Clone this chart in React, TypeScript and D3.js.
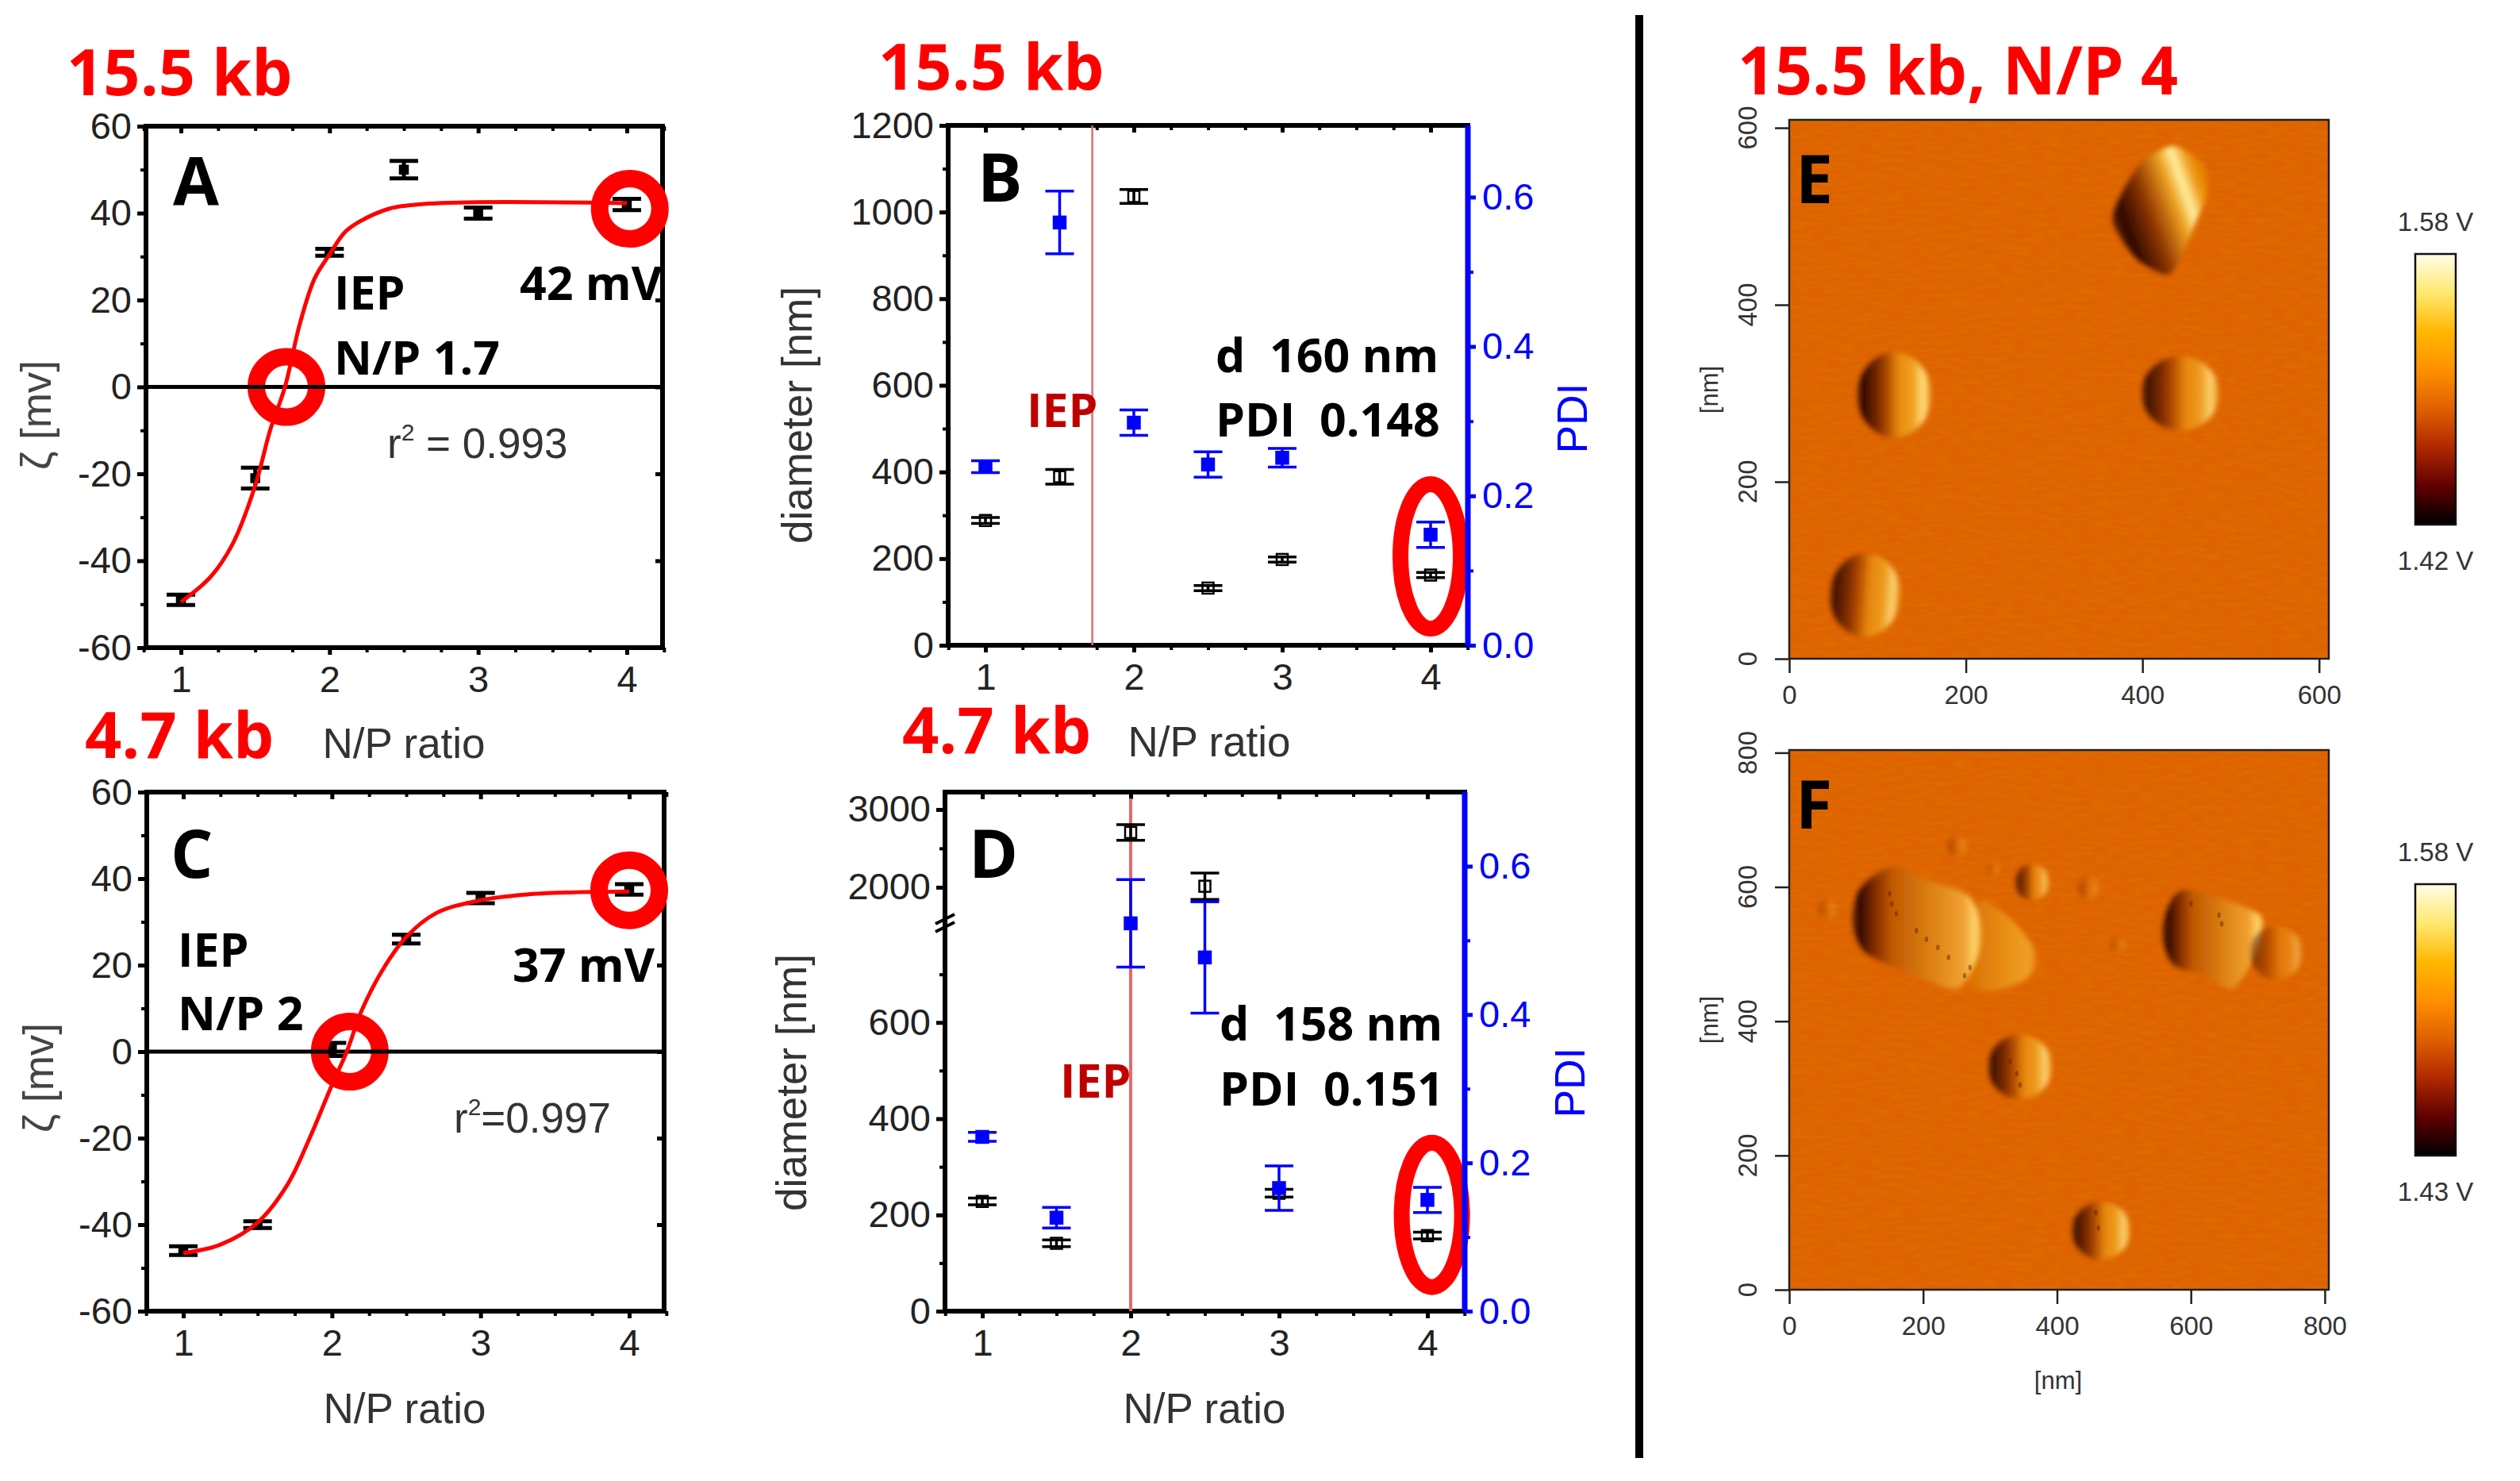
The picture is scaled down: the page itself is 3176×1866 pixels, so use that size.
import { useEffect, useRef } from "react";
import * as d3 from "d3";

// zeta potential, 15.5 kb
const npA = [1, 1.5, 2, 2.5, 3, 4];
const zetaA = [-49, -21, 31, 50, 40, 42];
const zetaErrA = [1.2, 2.4, 0.8, 2, 1.3, 1.3];
const fitXA = [1, 1.2, 1.35, 1.5, 1.6, 1.7, 1.8, 1.9, 2, 2.1, 2.2, 2.4, 2.6, 3, 4];
const fitYA = [-49.5, -43.7, -36, -22.7, -10, 0, 14.5, 25, 30.5, 35.5, 38, 41, 42, 42.5, 42.3];

// zeta potential, 4.7 kb
const npC = [1, 1.5, 2, 2.5, 3, 4];
const zetaC = [-46, -40, 0.5, 26, 35.5, 37.5];
const zetaErrC = [1, 0.8, 1.5, 1, 1.2, 1.2];
const fitXC = [1, 1.25, 1.5, 1.7, 1.85, 2, 2.1, 2.2, 2.35, 2.5, 2.7, 3, 3.3, 3.6, 4];
const fitYC = [-46.6, -44.6, -39.5, -30.8, -20, -7.7, 0, 9.5, 19.4, 26.5, 32, 35, 36.3, 36.8, 37];

// size and PDI, 15.5 kb
const npB = [1, 1.5, 2, 2.5, 3, 4];
const diamB = [288, 389, 1036, 132, 198, 162];
const diamErrB = [7, 17, 16, 6, 6, 6];
const pdiB = [0.239, 0.566, 0.298, 0.242, 0.251, 0.148];
const pdiErrB = [0.008, 0.042, 0.017, 0.017, 0.0125, 0.017];

// size and PDI, 4.7 kb
const npD = [1, 1.5, 2, 2.5, 3, 4];
const diamD = [228, 141, 2705, 2013, 245, 157];
const diamErrD = [7, 7, 100, 170, 8, 7];
const pdiD = [0.235, 0.126, 0.523, 0.477, 0.166, 0.15];
const pdiErrD = [0.006, 0.014, 0.059, 0.075, 0.03, 0.017];

const zetaTicks = [-60, -40, -20, 0, 20, 40, 60];
const zetaMinor = [-50, -30, -10, 10, 30, 50];
const npTicks = [1, 2, 3, 4];
const npMinor = [0.75, 1.25, 1.5, 1.75, 2.25, 2.5, 2.75, 3.25, 3.5, 3.75, 4.25];
const diamTicksB = [0, 200, 400, 600, 800, 1000, 1200];
const diamMinorB = [100, 300, 500, 700, 900, 1100];
const diamTicksD = [0, 200, 400, 600, 2000, 3000];
const diamMinorD = [100, 300, 500, 700, 2500];
const pdiTicks = [0, 0.2, 0.4, 0.6];
const pdiMinor = [0.1, 0.3, 0.5];

// AFM features in nm: x, y, rx, ry, tilt in degrees, strength
const bumpsE = [
  [119, 298, 42, 48, 0, 1],
  [443, 300, 44, 42, 0, 0.9],
  [86, 72, 40, 47, 4, 0.9],
];
const bumpsF = [
  [345, 332, 48, 48, 0, 0.9],
  [466, 88, 44, 43, 0, 0.9],
  [363, 607, 25, 27, 0, 0.8],
  [728, 502, 39, 40, 0, 0.5],
  [251, 661, 14, 16, 0, 0.3],
  [447, 598, 15, 17, 0, 0.3],
  [57, 568, 13, 15, 0, 0.25],
  [491, 514, 11, 12, 0, 0.25],
  [305, 627, 9, 11, 0, 0.25],
];
// traced outlines of the irregular AFM features, nm
const outlineE = [[439, 579], [468, 559], [474, 527], [461, 495], [445, 457], [429, 434], [397, 449], [377, 473], [366, 497], [377, 527], [397, 559], [419, 574]];
const outlineFLobe = [[285, 580], [336, 548], [370, 498], [353, 462], [302, 445], [268, 455], [277, 520]];
const outlineFBig = [[153, 630], [209, 609], [268, 587], [289, 534], [277, 484], [251, 448], [209, 459], [157, 480], [111, 505], [94, 548], [106, 598]];
const outlineFRight = [[587, 595], [643, 584], [698, 562], [709, 541], [689, 484], [660, 448], [617, 470], [574, 484], [557, 527], [566, 570]];
const pitsF = [[150, 590], [153, 575], [160, 560], [190, 535], [205, 522], [222, 510], [238, 495], [262, 468], [270, 480], [600, 575], [642, 558], [646, 545], [330, 340], [340, 322], [345, 305], [458, 115], [462, 92]];
const afmTicksE = [0, 200, 400, 600];
const afmTicksF = [0, 200, 400, 600, 800];
const colorbarStops = ["#000000", "#600000", "#b02800", "#e06000", "#ff9000", "#ffb800", "#ffe870", "#fffde8"];

const ARIAL = "'Liberation Sans', Arial, sans-serif";
const BOLD = "'Open Sans', sans-serif";
const INK = "#222";
const BLUE = "#0000ff";
const RED = "#ff0000";
const NB = "\u00a0";

type Sel = d3.Selection<any, any, any, any>;

function label(g: Sel, text: string, x: number, y: number, o: any = {}) {
  const t = g.append("text")
    .attr("x", x).attr("y", y)
    .attr("font-family", o.family ?? ARIAL)
    .attr("font-size", o.size ?? 53)
    .attr("font-weight", o.weight ?? "normal")
    .attr("fill", o.fill ?? INK)
    .attr("text-anchor", o.anchor ?? "start")
    .text(text);
  if (o.rotate) t.attr("transform", `rotate(${o.rotate} ${x} ${y})`);
  if (o.length) t.attr("textLength", o.length).attr("lengthAdjust", "spacingAndGlyphs");
  return t;
}
const bold = (g: Sel, text: string, x: number, y: number, size = 59, fill = "#000", extra: any = {}) =>
  label(g, text, x, y, { family: BOLD, weight: 700, size, fill, ...extra });

function styleAxis(a: Sel, color: string, width: number) {
  a.select(".domain").remove();
  a.selectAll("line").attr("stroke", color).attr("stroke-width", width);
  a.selectAll("text").attr("fill", color).attr("font-size", 47).attr("font-family", ARIAL);
}

function frame(g: Sel, x: any, y: any, yTicks: number[], yMinor: number[]) {
  const [x0, x1] = x.range();
  const [y0, y1] = [y.range()[0], y.range()[y.range().length - 1]];
  g.append("rect").attr("x", x0).attr("y", y1).attr("width", x1 - x0).attr("height", y0 - y1)
    .attr("fill", "none").attr("stroke", "#000").attr("stroke-width", 6);
  const bottom = g.append("g").attr("transform", `translate(0,${y0})`)
    .call(d3.axisBottom(x).tickValues(npTicks).tickSize(9).tickPadding(14).tickFormat(d3.format("d") as any));
  styleAxis(bottom, "#000", 5);
  bottom.selectAll("text").attr("fill", INK);
  styleAxis(g.append("g").attr("transform", `translate(0,${y0})`)
    .call(d3.axisBottom(x).tickValues(npMinor).tickSize(6).tickFormat(() => "")), "#000", 4);
  styleAxis(g.append("g").attr("transform", `translate(0,${y1})`)
    .call(d3.axisBottom(x).tickValues(npTicks).tickSize(9).tickFormat(() => "")), "#000", 5);
  styleAxis(g.append("g").attr("transform", `translate(0,${y1})`)
    .call(d3.axisBottom(x).tickValues(npMinor).tickSize(6).tickFormat(() => "")), "#000", 4);
  const left = g.append("g").attr("transform", `translate(${x0},0)`)
    .call(d3.axisLeft(y).tickValues(yTicks).tickSize(11).tickPadding(7).tickFormat((d: any) => String(d)));
  styleAxis(left, "#000", 5);
  left.selectAll("text").attr("fill", INK);
  styleAxis(g.append("g").attr("transform", `translate(${x0},0)`)
    .call(d3.axisLeft(y).tickValues(yMinor).tickSize(7).tickFormat(() => "")), "#000", 4);
}

function errorBars(g: Sel, x: any, y: any, xs: number[], ys: number[], errs: number[], color: string, sw: number, cap: number) {
  const rows = xs.map((v, i) => ({ x: v, y: ys[i], e: errs[i] }));
  const bars = g.append("g").attr("stroke", color).attr("stroke-width", sw);
  bars.selectAll("line.v").data(rows).join("line").attr("class", "v")
    .attr("x1", d => x(d.x)).attr("x2", d => x(d.x))
    .attr("y1", d => y(d.y - d.e)).attr("y2", d => y(d.y + d.e));
  for (const s of [-1, 1]) {
    bars.selectAll(`line.c${s}`).data(rows).join("line").attr("class", `c${s}`)
      .attr("x1", d => x(d.x) - cap).attr("x2", d => x(d.x) + cap)
      .attr("y1", d => y(d.y + s * d.e)).attr("y2", d => y(d.y + s * d.e));
  }
}

function squares(g: Sel, x: any, y: any, xs: number[], ys: number[], size: number, fill: string, stroke: string) {
  g.append("g").selectAll("rect").data(xs.map((v, i) => [v, ys[i]])).join("rect")
    .attr("x", d => x(d[0]) - size / 2).attr("y", d => y(d[1]) - size / 2)
    .attr("width", size).attr("height", size)
    .attr("fill", fill).attr("stroke", stroke).attr("stroke-width", 2.5);
}

function zetaPanel(g: Sel, box: number[], xs: number[], ys: number[], errs: number[], fx: number[], fy: number[], rings: number[][]) {
  const [x0, x1, yb, yt, one] = box;
  const x = d3.scaleLinear().domain([1, 4]).range([one, one + 562]);
  const xf = x.copy().domain([x.invert(x0), x.invert(x1)]).range([x0, x1]);
  const y = d3.scaleLinear().domain([-60, 60]).range([yb, yt]);
  styleAxis(g.append("g").attr("transform", `translate(${x1},0)`)
    .call(d3.axisLeft(y).tickValues(zetaTicks).tickSize(9).tickFormat(() => "")), "#000", 5);
  frame(g, xf, y, zetaTicks, zetaMinor);
  errorBars(g, xf, y, xs, ys, errs, "#000", 5, 18);
  squares(g, xf, y, xs, ys, 10, "#000", "#000");
  g.append("g").selectAll("circle").data(rings).join("circle")
    .attr("cx", d => xf(d[0])).attr("cy", d => y(d[1])).attr("r", 38)
    .attr("fill", "none").attr("stroke", RED).attr("stroke-width", 22);
  g.append("line").attr("x1", x0).attr("x2", x1).attr("y1", y(0)).attr("y2", y(0))
    .attr("stroke", "#000").attr("stroke-width", 5);
  const line = d3.line<number>().x(d => xf(d)).y((_, i) => y(fy[i])).curve(d3.curveCatmullRom);
  g.append("path").attr("d", line(fx)).attr("fill", "none").attr("stroke", RED).attr("stroke-width", 5);
}

function sizePanel(g: Sel, box: number[], y: any, ticks: number[], minor: number[], xs: number[], diam: number[], dErr: number[], pdi: number[], pErr: number[], pdiTop: number, iep: number[], oval: number[]) {
  const [x0, x1, yb, yt, one] = box;
  const x = d3.scaleLinear().domain([1, 4]).range([one, one + 561]);
  const xf = x.copy().domain([x.invert(x0), x.invert(x1)]).range([x0, x1]);
  const yr = d3.scaleLinear().domain([0, pdiTop]).range([yb, yt]);
  frame(g, xf, y, ticks, minor);
  g.append("line").attr("x1", xf(iep[0])).attr("x2", xf(iep[0])).attr("y1", iep[1]).attr("y2", yb)
    .attr("stroke", "#e46a6a").attr("stroke-width", iep[2]);
  errorBars(g, xf, y, xs, diam, dErr, "#000", 3.5, 18);
  squares(g, xf, y, xs, diam, 14, "none", "#000");
  errorBars(g, xf, yr, xs, pdi, pErr, BLUE, 3.5, 18);
  squares(g, xf, yr, xs, pdi, 15, BLUE, BLUE);
  g.append("ellipse").attr("cx", xf(oval[0])).attr("cy", y(oval[1])).attr("rx", 38).attr("ry", 91)
    .attr("fill", "none").attr("stroke", RED).attr("stroke-width", 20);
  g.append("line").attr("x1", x1).attr("x2", x1).attr("y1", yt).attr("y2", yb).attr("stroke", BLUE).attr("stroke-width", 7);
  const right = g.append("g").attr("transform", `translate(${x1},0)`)
    .call(d3.axisRight(yr).tickValues(pdiTicks).tickSize(10).tickPadding(8).tickFormat(d3.format(".1f") as any));
  styleAxis(right, BLUE, 5);
  styleAxis(g.append("g").attr("transform", `translate(${x1},0)`)
    .call(d3.axisRight(yr).tickValues(pdiMinor).tickSize(7).tickFormat(() => "")), BLUE, 4);
}

function afm(g: Sel, defs: Sel, id: string, box: number[], maxX: number, maxY: number, ticks: number[], shapes: any[], bumps: number[][], pits: number[][], bar: number[], barLabels: string[]) {
  const [x0, x1, yb, yt] = box;
  const x = d3.scaleLinear().domain([0, maxX]).range([x0, x1]);
  const y = d3.scaleLinear().domain([0, maxY]).range([yb, yt]);
  defs.append("clipPath").attr("id", `clip${id}`).append("rect")
    .attr("x", x0).attr("y", yt).attr("width", x1 - x0).attr("height", yb - yt);
  const img = g.append("g").attr("clip-path", `url(#clip${id})`);
  img.append("rect").attr("x", x0).attr("y", yt).attr("width", x1 - x0).attr("height", yb - yt).attr("fill", "#df6200");
  img.append("rect").attr("x", x0).attr("y", yt).attr("width", x1 - x0).attr("height", yb - yt)
    .attr("filter", "url(#grain)").attr("opacity", 0.3);
  const outline = d3.line<number[]>().x(d => x(d[0])).y(d => y(d[1])).curve(d3.curveCardinalClosed.tension(0.2));
  shapes.forEach(s => {
    img.append("path").attr("d", outline(s.points)).attr("fill", `url(#${s.shade})`).attr("filter", "url(#soft)");
  });
  bumps.forEach(b => {
    const cx = x(b[0]), cy = y(b[1]);
    const rx = x(b[2]) - x(0), ry = y(0) - y(b[3]);
    img.append("ellipse").attr("cx", cx).attr("cy", cy).attr("rx", rx).attr("ry", ry)
      .attr("transform", `rotate(${b[4]} ${cx} ${cy})`)
      .attr("fill", "url(#bump)").attr("opacity", b[5]).attr("filter", "url(#soft)");
  });
  img.append("g").selectAll("ellipse").data(pits).join("ellipse")
    .attr("cx", d => x(d[0])).attr("cy", d => y(d[1])).attr("rx", 2.2).attr("ry", 3.5)
    .attr("fill", "#5a1c00").attr("opacity", 0.45);
  g.append("rect").attr("x", x0).attr("y", yt).attr("width", x1 - x0).attr("height", yb - yt)
    .attr("fill", "none").attr("stroke", "#222").attr("stroke-width", 2.5);

  const bottom = g.append("g").attr("transform", `translate(0,${yb})`)
    .call(d3.axisBottom(x).tickValues(ticks).tickSize(18).tickPadding(16).tickFormat(d3.format("d") as any));
  bottom.select(".domain").remove();
  bottom.selectAll("line").attr("stroke", "#222").attr("stroke-width", 2.5);
  bottom.selectAll("text").attr("font-size", 33).attr("font-family", ARIAL).attr("fill", "#333");
  const left = g.append("g").attr("transform", `translate(${x0},0)`)
    .call(d3.axisLeft(y).tickValues(ticks).tickSize(18).tickFormat(() => ""));
  left.select(".domain").remove();
  left.selectAll("line").attr("stroke", "#222").attr("stroke-width", 2.5);
  ticks.forEach(t => label(g, String(t), x0 - 41, y(t), { size: 33, fill: "#333", anchor: "middle", rotate: -90 }));

  g.append("rect").attr("x", bar[0]).attr("y", bar[1]).attr("width", bar[2] - bar[0]).attr("height", bar[3] - bar[1])
    .attr("fill", "url(#cbar)").attr("stroke", "#111").attr("stroke-width", 2.5);
  const cx = (bar[0] + bar[2]) / 2;
  label(g, barLabels[0], cx, bar[1] - 29, { size: 33, anchor: "middle", fill: "#333" });
  label(g, barLabels[1], cx, bar[3] + 57, { size: 33, anchor: "middle", fill: "#333" });
}

function rSquared(g: Sel, head: string, tail: string, x: number, y: number) {
  const t = label(g, head, x, y, { fill: "#333" });
  t.append("tspan").attr("dy", -22).attr("font-size", 30).text("2");
  t.append("tspan").attr("dy", 22).text(tail);
}

function gradient(defs: Sel, id: string, stops: any[][], dir = [0, 0, 1, 0]) {
  const grad = defs.append("linearGradient").attr("id", id)
    .attr("x1", dir[0]).attr("y1", dir[1]).attr("x2", dir[2]).attr("y2", dir[3]);
  stops.forEach(s => grad.append("stop").attr("offset", s[0]).attr("stop-color", s[1]));
}

export default function App() {
  const ref = useRef<SVGSVGElement | null>(null);

  useEffect(() => {
    const svg = d3.select(ref.current);
    svg.selectAll("*").remove();
    const defs = svg.append("defs");

    // topography look of the AFM panels
    const grain = defs.append("filter").attr("id", "grain").attr("x", 0).attr("y", 0).attr("width", 1).attr("height", 1);
    grain.append("feTurbulence").attr("type", "fractalNoise").attr("baseFrequency", "0.05 0.2").attr("numOctaves", 3).attr("seed", 7);
    grain.append("feColorMatrix").attr("type", "matrix")
      .attr("values", "0 0 0 0 0.68  0 0 0 0 0.26  0 0 0 0 0  1.8 0 0 0 -0.62");
    defs.append("filter").attr("id", "soft").attr("x", "-20%").attr("y", "-20%").attr("width", "140%").attr("height", "140%")
      .append("feGaussianBlur").attr("stdDeviation", 3);
    gradient(defs, "bump", [[0, "#8a3400"], [0.06, "#2c0800"], [0.28, "#7a2a00"], [0.42, "#b85000"], [0.56, "#e88a10"], [0.75, "#f0a020"], [0.9, "#ffe080"], [1, "#ea8400"]]);
    gradient(defs, "bumpFlat", [[0, "#8a3400"], [0.05, "#2c0800"], [0.16, "#7a2800"], [0.3, "#c05800"], [0.6, "#dc8014"], [0.85, "#f0a030"], [0.95, "#ffd870"], [1, "#e88000"]]);
    gradient(defs, "bumpLobe", [[0, "#d87000"], [0.5, "#e88c14"], [0.9, "#f0a028"], [1, "#e27400"]]);
    gradient(defs, "bumpLeaf", [[0, "#6a2400"], [0.12, "#2c0800"], [0.38, "#8a3400"], [0.55, "#c87010"], [0.68, "#f0a828"], [0.8, "#fff0a0"], [0.92, "#f0a020"], [1, "#e88400"]], [0.05, 0.72, 0.95, 0.28]);
    const cbar = defs.append("linearGradient").attr("id", "cbar").attr("x1", 0).attr("x2", 0).attr("y1", 1).attr("y2", 0);
    colorbarStops.forEach((c, i) => cbar.append("stop").attr("offset", i / (colorbarStops.length - 1)).attr("stop-color", c));

    const g = svg.append("g");

    // A
    zetaPanel(g, [184, 835, 816, 159, 228], npA, zetaA, zetaErrA, fitXA, fitYA, [[1.71, 0], [4.02, 41]]);
    bold(g, "15.5 kb", 84, 120, 81, RED);
    bold(g, "A", 218, 258, 84);
    bold(g, "IEP", 421, 390);
    bold(g, "N/P 1.7", 421, 472);
    bold(g, "42 mV", 655, 378);
    rSquared(g, "r", " = 0.993", 488, 577);
    label(g, "ζ [mv]", 64, 523, { rotate: -90, anchor: "middle", fill: "#444" });
    label(g, "N/P ratio", 509, 955, { anchor: "middle", fill: "#333" });

    // B
    const yB = d3.scaleLinear().domain([0, 1200]).range([813, 158]);
    sizePanel(g, [1195, 1850, 813, 158, 1242], yB, diamTicksB, diamMinorB, npB, diamB, diamErrB, pdiB, pdiErrB, 0.696, [1.72, 158, 2.5], [4, 205]);
    bold(g, "15.5 kb", 1107, 113, 81, RED);
    bold(g, "B", 1232, 254, 84);
    bold(g, "IEP", 1294, 538, 59, "#c00000");
    bold(g, `d${NB}${NB}160 nm`, 1532, 469);
    bold(g, `PDI${NB}${NB}0.148`, 1532, 550);
    label(g, "diameter [nm]", 1023, 523, { rotate: -90, anchor: "middle", fill: "#333" });
    label(g, "N/P ratio", 1524, 953, { anchor: "middle", fill: "#333" });
    label(g, "PDI", 2000, 527, { rotate: -90, anchor: "middle", fill: BLUE });

    // C
    zetaPanel(g, [185, 837, 1652, 998, 231], npC, zetaC, zetaErrC, fitXC, fitYC, [[2.12, 0], [4, 37.3]]);
    bold(g, "4.7 kb", 107, 955, 81, RED);
    bold(g, "C", 215, 1106, 84);
    bold(g, "IEP", 224, 1218);
    bold(g, "N/P 2", 224, 1298);
    bold(g, "37 mV", 646, 1237);
    rSquared(g, "r", "=0.997", 572, 1427);
    label(g, "ζ [mv]", 67, 1358, { rotate: -90, anchor: "middle", fill: "#444" });
    label(g, "N/P ratio", 510, 1793, { anchor: "middle", fill: "#333" });

    // D, the left axis is broken between 800 and 1540
    const yD = d3.scaleLinear().domain([0, 800, 1540, 3224]).range([1652, 1167, 1163, 998]);
    sizePanel(g, [1191, 1846, 1652, 998, 1238], yD, diamTicksD, diamMinorD, npD, diamD, diamErrD, pdiD, pdiErrD, 0.7, [2, 1006, 4], [4.03, 200]);
    [-5, 5].forEach(d => g.append("line")
      .attr("x1", 1179).attr("x2", 1203).attr("y1", yD(800) + 2 + d).attr("y2", yD(800) - 10 + d)
      .attr("stroke", "#000").attr("stroke-width", 4));
    bold(g, "4.7 kb", 1137, 949, 81, RED);
    bold(g, "D", 1221, 1106, 84);
    bold(g, "IEP", 1336, 1383, 59, "#c00000");
    bold(g, `d${NB}${NB}158 nm`, 1537, 1311);
    bold(g, `PDI${NB}${NB}0.151`, 1537, 1393);
    label(g, "diameter [nm]", 1016, 1364, { rotate: -90, anchor: "middle", fill: "#333" });
    label(g, "N/P ratio", 1518, 1793, { anchor: "middle", fill: "#333" });
    label(g, "PDI", 1997, 1364, { rotate: -90, anchor: "middle", fill: BLUE });

    // divider
    g.append("line").attr("x1", 2066).attr("x2", 2066).attr("y1", 19).attr("y2", 1837).attr("stroke", "#000").attr("stroke-width", 10);

    // E, F
    afm(g, defs, "E", [2255, 2935, 830, 151], 611, 609, afmTicksE, [{ points: outlineE, shade: "bumpLeaf" }], bumpsE, [], [3044, 320, 3095, 661], ["1.58 V", "1.42 V"]);
    afm(g, defs, "F", [2255, 2935, 1625, 945], 806, 804, afmTicksF,
      [{ points: outlineFLobe, shade: "bumpLobe" }, { points: outlineFBig, shade: "bumpFlat" }, { points: outlineFRight, shade: "bumpFlat" }],
      bumpsF, pitsF, [3044, 1114, 3095, 1456], ["1.58 V", "1.43 V"]);
    bold(g, "15.5 kb, N/P 4", 2190, 119, 85, RED, { length: 555 });
    bold(g, "E", 2263, 256, 84);
    bold(g, "F", 2263, 1044, 84);
    label(g, "[nm]", 2165, 491, { size: 31, rotate: -90, anchor: "middle", fill: "#333" });
    label(g, "[nm]", 2165, 1285, { size: 31, rotate: -90, anchor: "middle", fill: "#333" });
    label(g, "[nm]", 2594, 1750, { size: 31, anchor: "middle", fill: "#333" });
  }, []);

  return (
    <svg ref={ref} width={3176} height={1866} style={{ position: "absolute", left: 0, top: 0, background: "#fff" }} />
  );
}
